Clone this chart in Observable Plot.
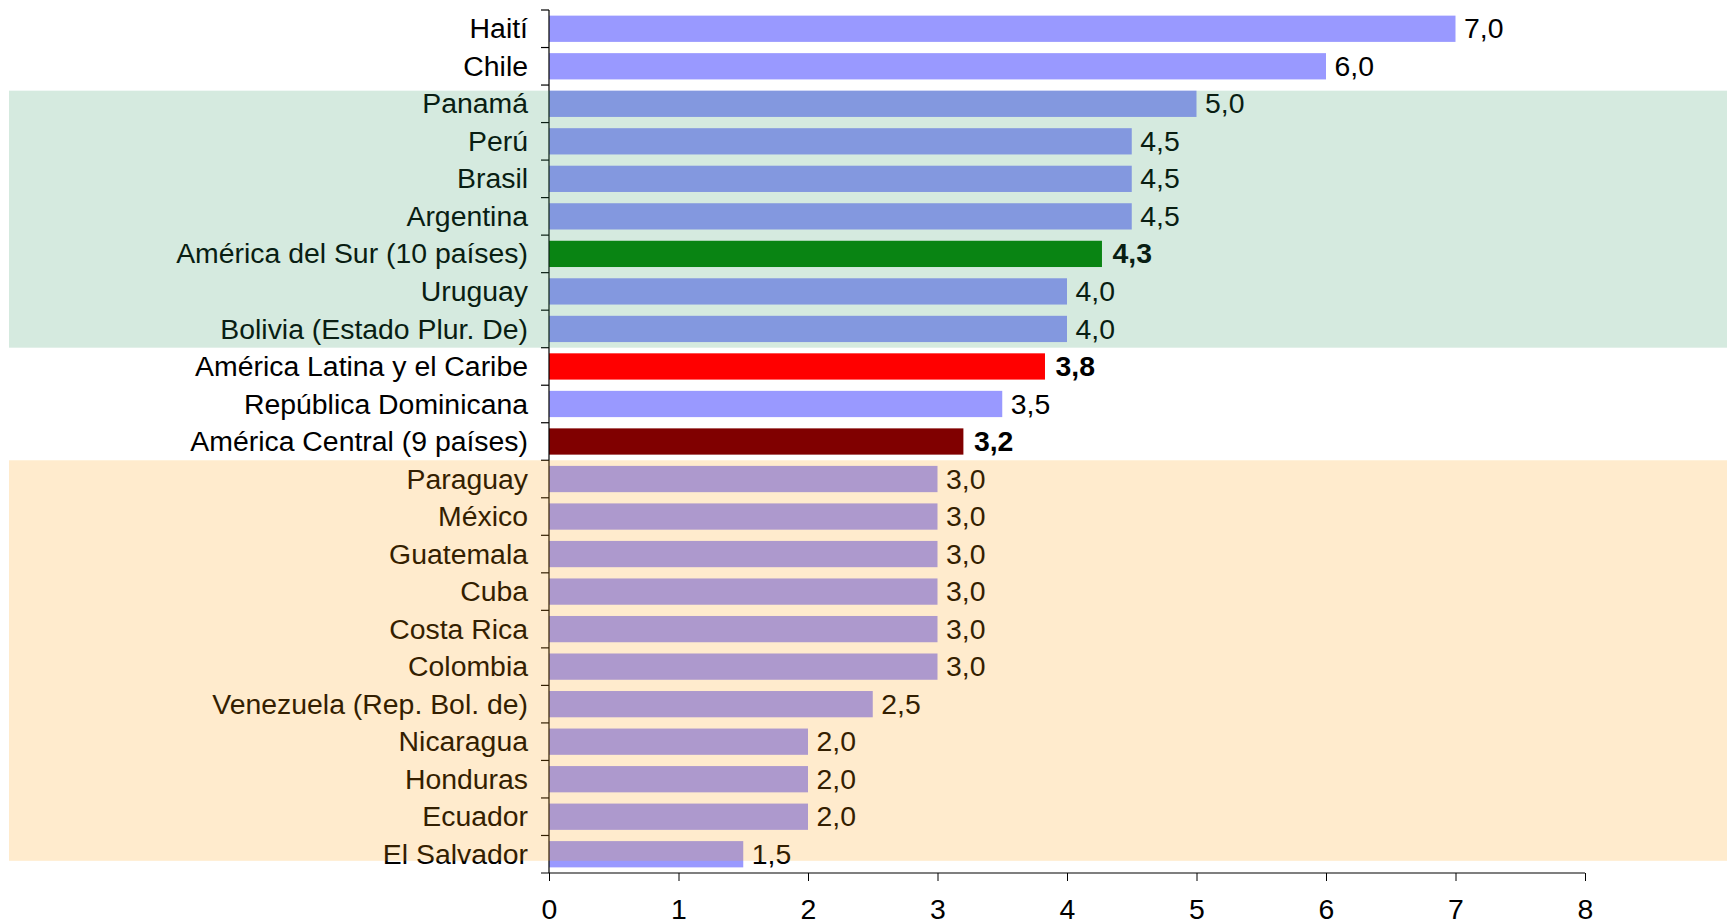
<!DOCTYPE html>
<html>
<head>
<meta charset="utf-8">
<script src="https://cdn.jsdelivr.net/npm/d3@7"></script>
<script src="https://cdn.jsdelivr.net/npm/@observablehq/plot@0.6"></script>
<style>
  html, body { margin: 0; padding: 0; background: #fff; }
  #chart svg { display: block; }
</style>
</head>
<body>
<div id="chart"></div>
<script>
// ---- Data ----
const categories = [
  "Haití", "Chile", "Panamá", "Perú", "Brasil", "Argentina",
  "América del Sur (10 países)", "Uruguay", "Bolivia (Estado Plur. De)",
  "América Latina y el Caribe", "República Dominicana", "América Central (9 países)",
  "Paraguay", "México", "Guatemala", "Cuba", "Costa Rica", "Colombia",
  "Venezuela (Rep. Bol. de)", "Nicaragua", "Honduras", "Ecuador", "El Salvador"
];
const values = [
  7.0, 6.0, 5.0, 4.5, 4.5, 4.5,
  4.27, 4.0, 4.0,
  3.83, 3.5, 3.2,
  3.0, 3.0, 3.0, 3.0, 3.0, 3.0,
  2.5, 2.0, 2.0, 2.0, 1.5
];
const groups = [
  "país", "país", "país", "país", "país", "país",
  "sur", "país", "país",
  "latam", "país", "central",
  "país", "país", "país", "país", "país", "país",
  "país", "país", "país", "país", "país"
];
const xTicks = [0, 1, 2, 3, 4, 5, 6, 7, 8];
// shaded regions (first and last category covered)
const shadeFrom = ["Panamá", "Paraguay"];
const shadeTo = ["Bolivia (Estado Plur. De)", "El Salvador"];

// ---- Styles ----
const groupDomain = ["país", "sur", "latam", "central"];
const groupRange = ["#9999ff", "#008000", "#ff0000", "#800000"];
const shadeColors = ["rgb(46,148,97)", "rgb(255,155,5)"];
const fmt = v => d3.format(".1f")(v).replace(".", ",");

const data = categories.map((c, i) => ({
  cat: c, value: values[i], group: groups[i], label: fmt(values[i])
}));

const W = 1727, H = 924;
const plot = Plot.plot({
  width: W,
  height: H,
  marginTop: 10,
  marginBottom: 51,
  marginLeft: 549,
  marginRight: 142,
  style: {
    fontFamily: "Arial, 'Liberation Sans', sans-serif",
    fontSize: "28.4px",
    color: "#000",
    background: "#fff",
    overflow: "visible"
  },
  x: { domain: [0, 8] },
  y: { domain: categories, paddingInner: 0.3, paddingOuter: 0.15, round: false },
  color: { domain: groupDomain, range: groupRange },
  marks: [
    Plot.barX(data, { x: "value", y: "cat", fill: "group" }),
    Plot.text(data.filter(d => d.group === "país"), {
      x: "value", y: "cat", text: "label", textAnchor: "start", dx: 8, fill: "#000"
    }),
    Plot.text(data.filter(d => d.group !== "país"), {
      x: "value", y: "cat", text: "label", textAnchor: "start", dx: 10, fill: "#000", fontWeight: "bold"
    }),
    Plot.axisY({ tickSize: 0, tickPadding: 21.5, label: null }),
    Plot.axisX({ ticks: xTicks, tickSize: 8, tickPadding: 17, tickFormat: d => String(d), label: null })
  ]
});

document.getElementById("chart").appendChild(plot);

// ---- Axis lines, category-boundary ticks and translucent shading, from the scales ----
const svg = d3.select(plot);
const ys = plot.scale("y"), xs = plot.scale("x");
const bw = ys.bandwidth, step = ys.step, gap = (step - bw) / 2;
const x0 = xs.apply(0), x8 = xs.apply(8);
const yTop = ys.apply(categories[0]) - gap;
const yBot = ys.apply(categories[categories.length - 1]) + bw + gap;

const ax = svg.append("g").attr("stroke", "#000").attr("stroke-width", 1.2).attr("fill", "none");
ax.append("line").attr("x1", x0).attr("x2", x0).attr("y1", yTop).attr("y2", yBot);
ax.append("line").attr("x1", x0 - 8).attr("x2", x8).attr("y1", yBot).attr("y2", yBot);
categories.forEach(c => {
  const yb = ys.apply(c) - gap;
  ax.append("line").attr("x1", x0 - 8).attr("x2", x0).attr("y1", yb).attr("y2", yb);
});

const sh = svg.append("g");
// green: from top of first bar to lower boundary of last band
{
  const y1 = ys.apply(shadeFrom[0]);
  const y2 = ys.apply(shadeTo[0]) + bw + gap;
  sh.append("rect").attr("x", 9).attr("width", W - 9).attr("y", y1).attr("height", y2 - y1)
    .attr("fill", shadeColors[0]).attr("fill-opacity", 0.2);
}
// orange: from upper boundary of first band to lower part of last bar
{
  const y1 = ys.apply(shadeFrom[1]) - gap;
  const y2 = ys.apply(shadeTo[1]) + bw * 0.75;
  sh.append("rect").attr("x", 9).attr("width", W - 9).attr("y", y1).attr("height", y2 - y1)
    .attr("fill", shadeColors[1]).attr("fill-opacity", 0.2);
}
</script>
</body>
</html>
